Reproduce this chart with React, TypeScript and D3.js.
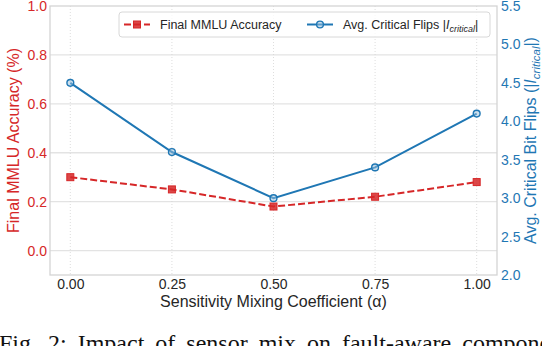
import React, { useRef, useEffect } from 'react';
import * as d3 from 'd3';

// values
const alphas = [0, 0.25, 0.5, 0.75, 1.0];
const mmluAcc = [0.30, 0.25, 0.18, 0.22, 0.28];
const critFlips = [4.5, 3.6, 3.0, 3.4, 4.1];

const xTicks = [0, 0.25, 0.5, 0.75, 1.0];
const leftTicks = [0, 0.2, 0.4, 0.6, 0.8, 1.0];
const rightTicks = [2.0, 2.5, 3.0, 3.5, 4.0, 4.5, 5.0, 5.5];

const RED = '#d62728';
const BLUE = '#1f77b4';
const SANS = '"Liberation Sans", Arial, sans-serif';

const App = () => {
    const ref = useRef<SVGSVGElement>(null);

    useEffect(() => {
        const svg = d3.select(ref.current);
        svg.selectAll('*').remove();

        const left = 50, right = 497, top = 6, bottom = 275;

        const x = d3.scaleLinear().domain([-0.05, 1.05]).range([left, right]);
        const yL = d3.scaleLinear().domain([-0.1, 1.0]).range([bottom, top]);
        const yR = d3.scaleLinear().domain([2.0, 5.5]).range([bottom, top]);

        // grid
        svg.append('g').selectAll('line')
            .data(leftTicks.filter(d => d < 1))
            .enter().append('line')
            .attr('x1', left).attr('x2', right)
            .attr('y1', d => yL(d)).attr('y2', d => yL(d))
            .attr('stroke', '#e3e3e3').attr('stroke-width', 1.3);

        svg.append('g').selectAll('line')
            .data(xTicks)
            .enter().append('line')
            .attr('x1', d => x(d)).attr('x2', d => x(d))
            .attr('y1', top).attr('y2', bottom)
            .attr('stroke', '#d6d6d6').attr('stroke-width', 0.8)
            .attr('stroke-dasharray', '1,2');

        // frame
        svg.append('rect')
            .attr('x', left).attr('y', top)
            .attr('width', right - left).attr('height', bottom - top)
            .attr('fill', 'none').attr('stroke', '#d4d4d4').attr('stroke-width', 1.3);

        // axes
        const styleAxis = (g, color) => {
            g.select('.domain').remove();
            g.selectAll('text').attr('fill', color).style('font-size', '14px').style('font-family', SANS);
        };

        svg.append('g')
            .attr('transform', `translate(0,${bottom})`)
            .call(d3.axisBottom(x).tickValues(xTicks).tickSize(0).tickPadding(4).tickFormat(d3.format('.2f')))
            .call(g => styleAxis(g, '#262626'));

        svg.append('g')
            .attr('transform', `translate(${left},0)`)
            .call(d3.axisLeft(yL).tickValues(leftTicks).tickSize(0).tickPadding(3).tickFormat(d3.format('.1f')))
            .call(g => styleAxis(g, RED));

        svg.append('g')
            .attr('transform', `translate(${right},0)`)
            .call(d3.axisRight(yR).tickValues(rightTicks).tickSize(0).tickPadding(4).tickFormat(d3.format('.1f')))
            .call(g => styleAxis(g, BLUE));

        // axis labels
        svg.append('text')
            .attr('x', (left + right) / 2).attr('y', 307)
            .attr('text-anchor', 'middle')
            .style('font-family', SANS).style('font-size', '16px')
            .attr('fill', '#262626')
            .text('Sensitivity Mixing Coefficient (α)');

        svg.append('text')
            .attr('transform', `translate(19,${(top + bottom) / 2}) rotate(-90)`)
            .attr('text-anchor', 'middle')
            .style('font-family', SANS).style('font-size', '16px')
            .attr('fill', RED)
            .text('Final MMLU Accuracy (%)');

        // mathtext like |I_critical|
        const addCrit = (t, sub) => {
            t.append('tspan').text('|');
            t.append('tspan').style('font-style', 'italic').text('I');
            t.append('tspan').style('font-style', 'italic').style('font-size', '72%').attr('dy', sub).text('critical');
            t.append('tspan').attr('dy', -sub).text('|');
        };

        const rLabel = svg.append('text')
            .attr('transform', `translate(536,${(top + bottom) / 2}) rotate(-90)`)
            .attr('text-anchor', 'middle')
            .style('font-family', SANS).style('font-size', '16px')
            .attr('fill', BLUE);
        rLabel.append('tspan').text('Avg. Critical Bit Flips (');
        addCrit(rLabel, 4);
        rLabel.append('tspan').text(')');

        // lines
        const lineL = d3.line<number>().x((d, i) => x(alphas[i])).y(d => yL(d));
        const lineR = d3.line<number>().x((d, i) => x(alphas[i])).y(d => yR(d));

        svg.append('path')
            .datum(mmluAcc)
            .attr('d', lineL)
            .attr('fill', 'none').attr('stroke', RED).attr('stroke-width', 2)
            .attr('stroke-dasharray', '7,3');

        svg.append('g').selectAll('rect')
            .data(mmluAcc)
            .enter().append('rect')
            .attr('x', (d, i) => x(alphas[i]) - 3.5)
            .attr('y', d => yL(d) - 3.5)
            .attr('width', 7).attr('height', 7)
            .attr('fill', RED).attr('fill-opacity', 0.85)
            .attr('stroke', RED).attr('stroke-width', 1);

        svg.append('path')
            .datum(critFlips)
            .attr('d', lineR)
            .attr('fill', 'none').attr('stroke', BLUE).attr('stroke-width', 2);

        svg.append('g').selectAll('circle')
            .data(critFlips)
            .enter().append('circle')
            .attr('cx', (d, i) => x(alphas[i]))
            .attr('cy', d => yR(d))
            .attr('r', 3.4)
            .attr('fill', '#9cc1de').attr('fill-opacity', 0.5)
            .attr('stroke', BLUE).attr('stroke-width', 1.4);

        // legend
        const legend = svg.append('g');
        legend.append('rect')
            .attr('x', 119).attr('y', 12)
            .attr('width', 371).attr('height', 25)
            .attr('rx', 3)
            .attr('fill', 'white').attr('fill-opacity', 0.8)
            .attr('stroke', '#d8d8d8').attr('stroke-width', 1);

        const ly = 24.5;
        legend.append('line')
            .attr('x1', 124).attr('x2', 150).attr('y1', ly).attr('y2', ly)
            .attr('stroke', RED).attr('stroke-width', 2).attr('stroke-dasharray', '7,3');
        legend.append('rect')
            .attr('x', 133.5).attr('y', ly - 3.5).attr('width', 7).attr('height', 7)
            .attr('fill', RED).attr('fill-opacity', 0.85).attr('stroke', RED);
        legend.append('text')
            .attr('x', 160).attr('y', ly + 4.5)
            .style('font-family', SANS).style('font-size', '12.5px')
            .attr('fill', '#262626')
            .text('Final MMLU Accuracy');

        legend.append('line')
            .attr('x1', 307).attr('x2', 333).attr('y1', ly).attr('y2', ly)
            .attr('stroke', BLUE).attr('stroke-width', 2);
        legend.append('circle')
            .attr('cx', 320).attr('cy', ly).attr('r', 3.4)
            .attr('fill', '#9cc1de').attr('fill-opacity', 0.5)
            .attr('stroke', BLUE).attr('stroke-width', 1.4);
        const lt = legend.append('text')
            .attr('x', 343).attr('y', ly + 4.5)
            .style('font-family', SANS).style('font-size', '12.5px')
            .attr('fill', '#262626');
        lt.append('tspan').text('Avg. Critical Flips ');
        addCrit(lt, 3);

        // caption (cut off at the bottom of the image)
        svg.append('text')
            .attr('x', -1).attr('y', 351)
            .style('font-family', '"Liberation Serif", "Times New Roman", serif')
            .style('font-size', '24px')
            .attr('word-spacing', 5)
            .attr('fill', '#111')
            .text('Fig. 2: Impact of sensor mix on fault-aware component effectiveness');
    }, []);

    return (
        <svg ref={ref} width={542} height={346}
            style={{ position: 'absolute', left: 0, top: 0, background: 'white' }} />
    );
};

export default App;
